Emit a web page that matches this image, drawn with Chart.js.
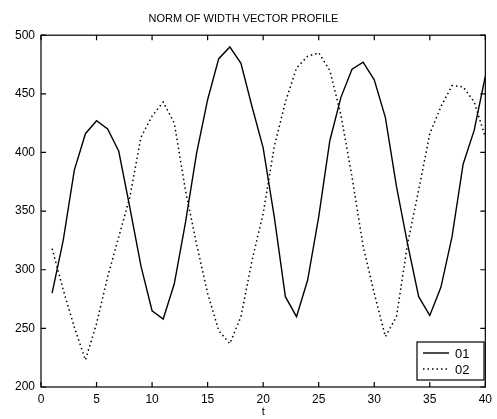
<!DOCTYPE html>
<html lang="en">
<head>
    <meta charset="UTF-8">
    <script src="https://cdn.jsdelivr.net/npm/chart.js"></script>
    <title>Norm of width vector profile</title>
    <style>
        body { margin: 0; background: #fff; }
    </style>
</head>
<body>
    <canvas id="myChart" width="497" height="419"></canvas>
    <script>
        const tempo = [1, 2, 3, 4, 5, 6, 7, 8, 9, 10, 11, 12, 13, 14, 15, 16, 17, 18, 19, 20,
            21, 22, 23, 24, 25, 26, 27, 28, 29, 30, 31, 32, 33, 34, 35, 36, 37, 38, 39, 40]
        const serie01 = [280, 325, 385, 416, 427, 420, 401, 353, 303, 265, 258, 288, 340, 399, 445, 480, 490, 476, 439, 404,
            345, 277, 260, 291, 345, 410, 447, 471, 477, 462, 430, 371, 322, 277, 261, 285, 328, 390, 419, 465]
        const serie02 = [318, 283, 251, 223, 254, 294, 328, 362, 413, 431, 443, 425, 368, 322, 280, 248, 237, 260, 308, 348,
            405, 443, 472, 482, 485, 470, 432, 379, 320, 280, 243, 260, 322, 368, 416, 439, 457, 456, 443, 413]
        const nomes = ['01', '02']
        const ticksX = [0, 5, 10, 15, 20, 25, 30, 35, 40]
        const ticksY = [200, 250, 300, 350, 400, 450, 500]

        function pontos(valores) {
            return valores.map(function (v, i) { return { x: tempo[i], y: v } })
        }

        // ticks para dentro e legenda no canto, estilo matlab
        const molduraPlugin = {
            id: 'moldura',
            afterDraw: function (chart) {
                const ctx = chart.ctx
                const a = chart.chartArea
                const sx = chart.scales.x
                const sy = chart.scales.y
                ctx.save()
                ctx.strokeStyle = '#000'
                ctx.lineWidth = 1.2
                ctx.strokeRect(a.left, a.top, a.right - a.left, a.bottom - a.top)
                ctx.beginPath()
                ticksX.forEach(function (t) {
                    const px = sx.getPixelForValue(t)
                    ctx.moveTo(px, a.bottom); ctx.lineTo(px, a.bottom - 5)
                    ctx.moveTo(px, a.top); ctx.lineTo(px, a.top + 5)
                })
                ticksY.forEach(function (t) {
                    const py = sy.getPixelForValue(t)
                    ctx.moveTo(a.left, py); ctx.lineTo(a.left + 5, py)
                    ctx.moveTo(a.right, py); ctx.lineTo(a.right - 5, py)
                })
                ctx.stroke()

                // legenda
                const lx = 417, ly = 342, lw = 67, lh = 38
                ctx.fillStyle = '#fff'
                ctx.fillRect(lx, ly, lw, lh)
                ctx.lineWidth = 1.2
                ctx.strokeRect(lx, ly, lw, lh)
                chart.data.datasets.forEach(function (ds, i) {
                    const yy = ly + 11 + i * 16
                    ctx.beginPath()
                    ctx.lineWidth = ds.borderWidth
                    ctx.setLineDash(ds.borderDash || [])
                    ctx.moveTo(lx + 6, yy)
                    ctx.lineTo(lx + 32, yy)
                    ctx.stroke()
                    ctx.setLineDash([])
                    ctx.fillStyle = '#000'
                    ctx.font = '13px Arial, "Liberation Sans", sans-serif'
                    ctx.textBaseline = 'middle'
                    ctx.fillText(ds.label, lx + 38, yy + 1)
                })
                ctx.restore()
            }
        }

        const data = {
            datasets: [{
                label: nomes[0],
                data: pontos(serie01),
                borderColor: '#000',
                borderWidth: 1.4,
                pointRadius: 0,
                tension: 0,
                fill: false
            }, {
                label: nomes[1],
                data: pontos(serie02),
                borderColor: '#000',
                borderWidth: 1.5,
                borderDash: [1.5, 3],
                pointRadius: 0,
                tension: 0,
                fill: false
            }]
        }

        const config = {
            type: 'line',
            data: data,
            options: {
                responsive: false,
                animation: false,
                layout: { padding: { right: 10 } },
                plugins: {
                    legend: { display: false },
                    tooltip: { enabled: false },
                    title: {
                        display: true,
                        text: 'NORM OF WIDTH VECTOR PROFILE',
                        color: '#000',
                        font: { family: 'Arial, "Liberation Sans", sans-serif', size: 11, weight: 'normal' },
                        padding: { top: 12, bottom: 10 }
                    }
                },
                scales: {
                    x: {
                        type: 'linear',
                        min: 0,
                        max: 40,
                        afterBuildTicks: function (s) { s.ticks = ticksX.map(function (v) { return { value: v } }) },
                        afterFit: function (s) { s.height = 32 },
                        grid: { display: false, drawTicks: false },
                        border: { display: false },
                        ticks: {
                            color: '#000',
                            padding: 5,
                            maxRotation: 0,
                            font: { family: 'Arial, "Liberation Sans", sans-serif', size: 12 }
                        },
                        title: {
                            display: true,
                            text: 't',
                            color: '#000',
                            padding: 0,
                            font: { family: 'Arial, "Liberation Sans", sans-serif', size: 11 }
                        }
                    },
                    y: {
                        min: 200,
                        max: 500,
                        afterBuildTicks: function (s) { s.ticks = ticksY.map(function (v) { return { value: v } }) },
                        afterFit: function (s) { s.width = 41 },
                        grid: { display: false, drawTicks: false },
                        border: { display: false },
                        ticks: {
                            color: '#000',
                            padding: 6,
                            font: { family: 'Arial, "Liberation Sans", sans-serif', size: 12 }
                        }
                    }
                }
            },
            plugins: [molduraPlugin]
        }

        var myChart = new Chart(document.getElementById('myChart'), config)
    </script>
</body>
</html>
